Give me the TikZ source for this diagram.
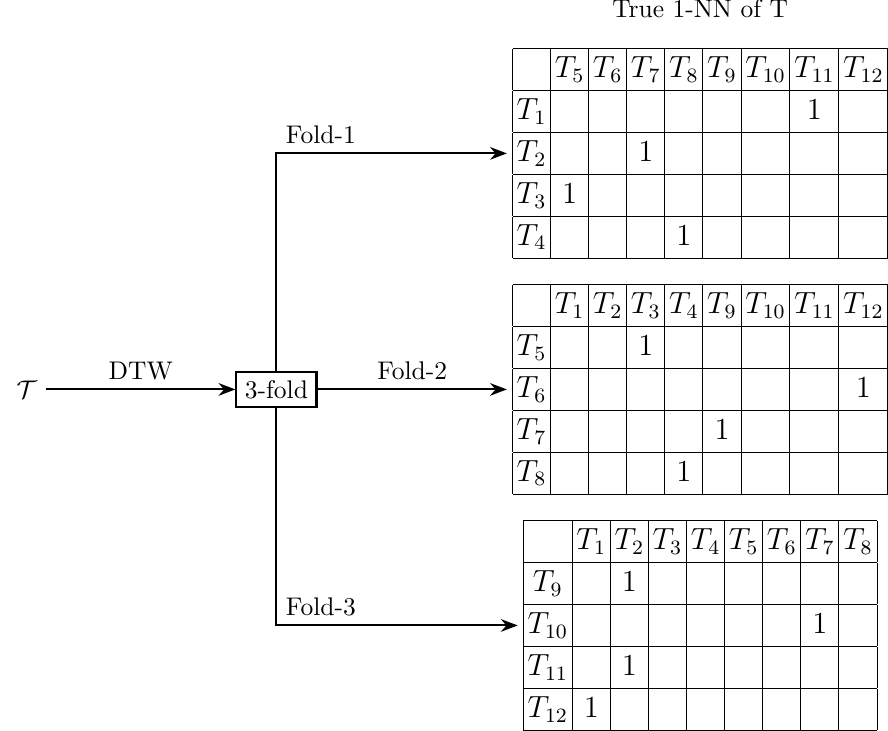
\documentclass[tikz,border=0pt]{standalone}
\usepackage{amsmath}
\usepackage{tikz}
\usetikzlibrary{arrows.meta, positioning}
\renewcommand{\arraystretch}{1.145}
\setlength{\tabcolsep}{1.65pt}

\begin{document}
\begin{tikzpicture}[
      >=Stealth, node distance=2.61cm,
      splitbox/.style={draw, thick},
      tbl/.style={inner sep=2pt, font=\large},
      conn/.style={->, thick},
      lbl/.style={inner sep=3.33pt}]
    \useasboundingbox (-108.4pt,-133.9pt) rectangle (239.8pt,152.7pt);
    \node[splitbox] (split) at (0,0) {3-fold};
    \node (series) [left=of split] {$\mathcal{T}$};
    \node[tbl] (fold2) [right=of split] {\begin{tabular}{|*{9}{c|}}
      \hline
       & $T_1$ & $T_2$ & $T_3$ & $T_4$ & $T_9$ & $T_{10}$ & $T_{11}$ & $T_{12}$ \\ \hline
      $T_5$ &  &  & 1 &  &  &  &  &  \\ \hline
      $T_6$ &  &  &  &  &  &  &  & 1 \\ \hline
      $T_7$ &  &  &  &  & 1 &  &  &  \\ \hline
      $T_8$ &  &  &  & 1 &  &  &  &  \\ \hline
    \end{tabular}};
    \node[tbl] (fold1) [above=5.6pt of fold2] {\begin{tabular}{|*{9}{c|}}
      \hline
       & $T_5$ & $T_6$ & $T_7$ & $T_8$ & $T_9$ & $T_{10}$ & $T_{11}$ & $T_{12}$ \\ \hline
      $T_1$ &  &  &  &  &  &  & 1 &  \\ \hline
      $T_2$ &  &  & 1 &  &  &  &  &  \\ \hline
      $T_3$ & 1 &  &  &  &  &  &  &  \\ \hline
      $T_4$ &  &  &  & 1 &  &  &  &  \\ \hline
    \end{tabular}};
    \node[tbl] (fold3) [below=5.6pt of fold2] {\begin{tabular}{|*{9}{c|}}
      \hline
       & $T_1$ & $T_2$ & $T_3$ & $T_4$ & $T_5$ & $T_6$ & $T_7$ & $T_8$ \\ \hline
      $T_9$ &  & 1 &  &  &  &  &  &  \\ \hline
      $T_{10}$ &  &  &  &  &  &  & 1 &  \\ \hline
      $T_{11}$ &  & 1 &  &  &  &  &  &  \\ \hline
      $T_{12}$ & 1 &  &  &  &  &  &  &  \\ \hline
    \end{tabular}};
    \node (title) [above=6pt of fold1] {True 1-NN of T};
    \draw[conn] (series) -- node[lbl, above] {DTW} (split);
    \draw[conn] (split.north) |- node[lbl, pos=0.5, above right] {Fold-1} (fold1.west);
    \draw[conn] (split) -- node[lbl, above] {Fold-2} (fold2.west);
    \draw[conn] (split.south) |- node[lbl, pos=0.5, above right] {Fold-3} (fold3.west);
  \end{tikzpicture}
\end{document}
